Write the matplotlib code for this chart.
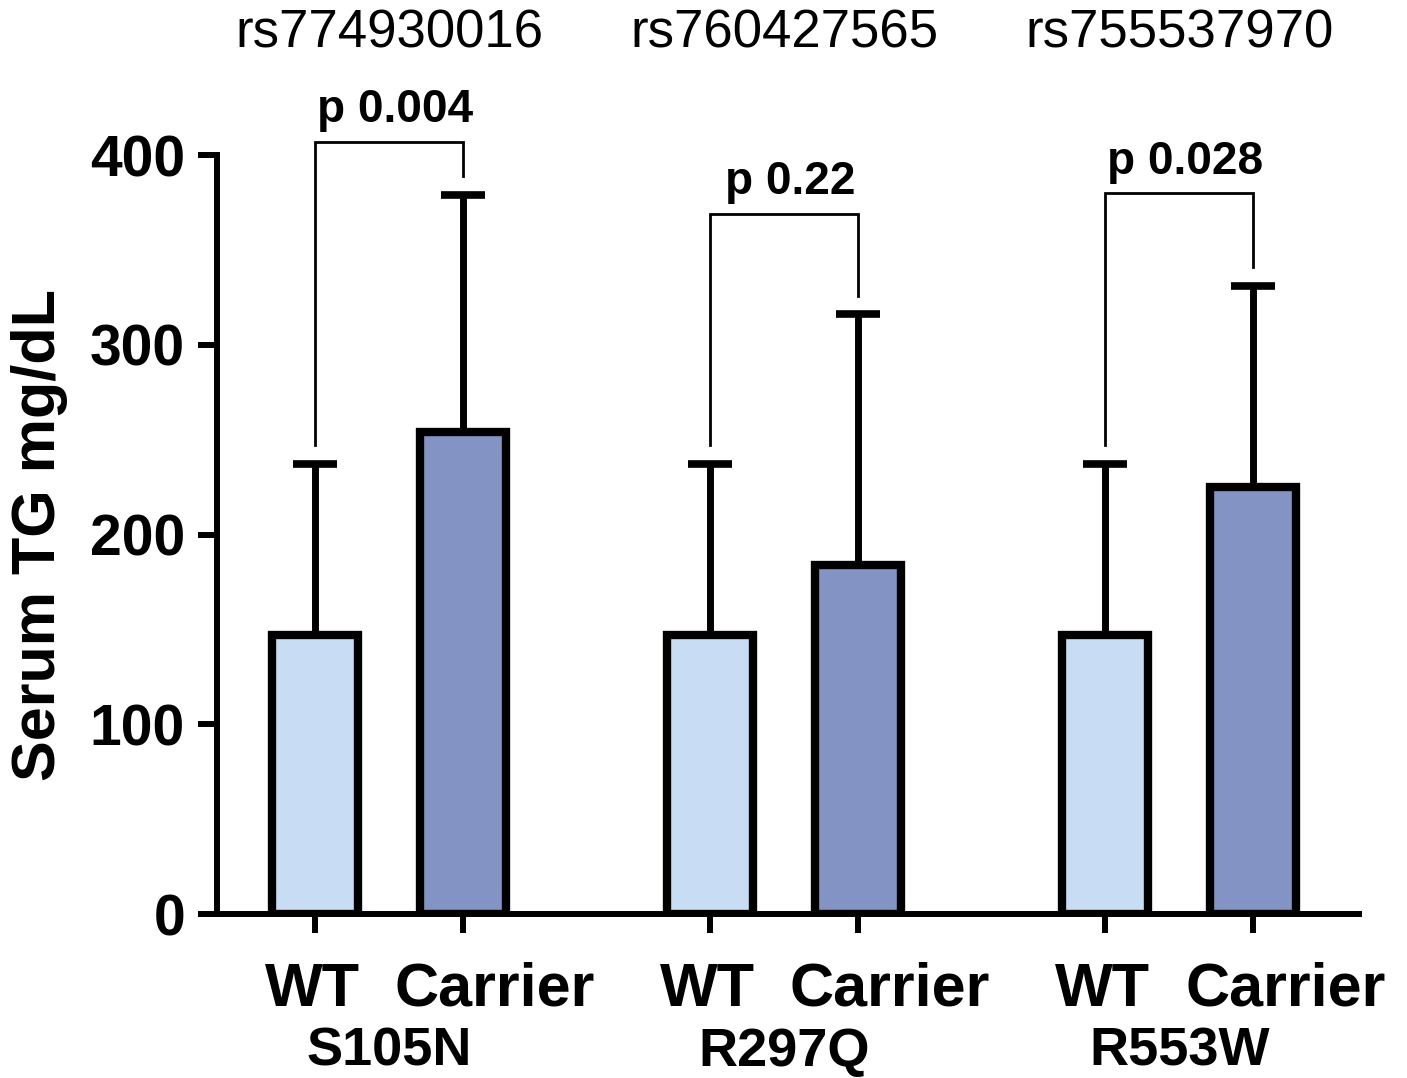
import matplotlib
matplotlib.use("Agg")
import matplotlib.pyplot as plt
from matplotlib.transforms import blended_transform_factory, ScaledTranslation
import numpy as np

plt.rcParams['font.family'] = ['Liberation Sans', 'DejaVu Sans']

# data
variants = ['S105N', 'R297Q', 'R553W']
snp_ids = ['rs774930016', 'rs760427565', 'rs755537970']
groups = ['WT', 'Carrier']
wt_mean = [147, 147, 147]
wt_sd = [90, 90, 90]
carrier_mean = [254, 184, 225]
carrier_sd = [125, 132, 106]
p_values = ['p 0.004', 'p 0.22', 'p 0.028']
bracket_y = [407, 369, 380]

wt_color = '#c8ddf4'
carrier_color = '#8393c4'

fig = plt.figure(figsize=(14.07, 10.78), dpi=100)
ax = fig.add_axes([0.1542, 0.1521, 0.8117, 0.704])

step = 2.67
width = 0.58
x_wt = np.arange(len(variants)) * step
x_car = x_wt + 1

ax.bar(x_wt, wt_mean, width, color=wt_color, edgecolor='black', linewidth=6, zorder=2)
ax.bar(x_car, carrier_mean, width, color=carrier_color, edgecolor='black', linewidth=6, zorder=2)

err_kw = dict(fmt='none', ecolor='black', elinewidth=5, capsize=16, capthick=5.5, zorder=1)
ax.errorbar(x_wt, wt_mean, yerr=[np.zeros(3), wt_sd], **err_kw)
ax.errorbar(x_car, carrier_mean, yerr=[np.zeros(3), carrier_sd], **err_kw)

# significance brackets
gap = 10
for i in range(len(variants)):
    top = bracket_y[i]
    lb = wt_mean[i] + wt_sd[i] + gap
    rb = carrier_mean[i] + carrier_sd[i] + gap
    ax.plot([x_wt[i], x_wt[i], x_car[i], x_car[i]], [lb, top, top, rb],
            color='black', lw=2, solid_joinstyle='miter', zorder=3, clip_on=False)
    ax.text((x_wt[i] + x_car[i]) / 2 + 0.04, top + 5, p_values[i], ha='center', va='bottom',
            fontsize=33, fontweight='bold')

ax.set_xlim(-0.662, 7.054)
ax.set_ylim(0, 400)
ax.set_yticks([0, 100, 200, 300, 400])
ax.set_yticklabels(['0', '100', '200', '300', '400'], fontsize=41, fontweight='bold')

xt = np.ravel(np.column_stack([x_wt, x_car]))
ax.set_xticks(xt)
ax.set_xticklabels([])

for s in ['top', 'right']:
    ax.spines[s].set_visible(False)
for s in ['left', 'bottom']:
    ax.spines[s].set_linewidth(4.3)
ax.tick_params(axis='both', length=14, width=4.3)
ax.tick_params(axis='y', pad=9)

ax.set_ylabel('Serum TG mg/dL', fontsize=44, fontweight='bold')
ax.yaxis.set_label_coords(-0.130, 0.5)

trans = blended_transform_factory(ax.transData, fig.transFigure)
shift = {'WT': -0.03, 'Carrier': 0.32}
for x, name in zip(xt, groups * len(variants)):
    t = trans + ScaledTranslation(shift[name], 0, fig.dpi_scale_trans)
    ax.text(x, 1 - 990 / 1078, name, transform=t, ha='center', va='center',
            fontsize=44, fontweight='bold')

for i, v in enumerate(variants):
    mid = (x_wt[i] + x_car[i]) / 2
    ax.text(mid, 1 - 1052 / 1078, v, transform=trans, ha='center', va='center',
            fontsize=39, fontweight='bold')
    ax.text(mid, 1 - 33 / 1078, snp_ids[i], transform=trans, ha='center', va='center',
            fontsize=38)

fig.savefig('out.png', dpi=100)
